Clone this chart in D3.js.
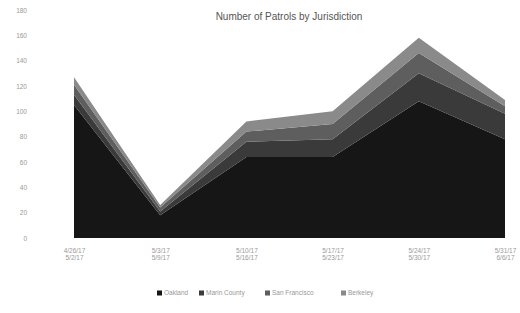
<!DOCTYPE html>
<meta charset="utf-8">
<script src="https://d3js.org/d3.v7.min.js"></script>
<html>
<head>
  <title>Number of Patrols by Jurisdiction</title>
  <style>
    body { margin: 0; background: #fff; }
    text { font-family: "Liberation Sans", Arial, sans-serif; }
  </style>
</head>
<body>
  <div id="my_dataviz"></div>
</body>
</html>

<script>
// week ranges (two line labels)
var weekStart = ["4/26/17", "5/3/17", "5/10/17", "5/17/17", "5/24/17", "5/31/17"];
var weekEnd   = ["5/2/17", "5/9/17", "5/16/17", "5/23/17", "5/30/17", "6/6/17"];

// series, bottom of the stack first
var seriesNames = ["Oakland", "Marin County", "San Francisco", "Berkeley"];
var oakland      = [105, 18, 64, 64, 108, 78];
var marinCounty  = [8, 3, 12, 14, 22, 20];
var sanFrancisco = [8, 3, 8, 12, 16, 6];
var berkeley     = [6, 2, 8, 10, 12, 5];

var yTicks = [0, 20, 40, 60, 80, 100, 120, 140, 160, 180];

var colors = ["#161616", "#3a3a3a", "#5e5e5e", "#8a8a8a"];

// table for d3.stack
var rows = weekStart.map(function(w, i) {
  return { week: w, s0: oakland[i], s1: marinCounty[i], s2: sanFrancisco[i], s3: berkeley[i] };
});

var W = 520, H = 313;
var svg = d3.select("#my_dataviz")
  .append("svg")
    .attr("width", W)
    .attr("height", H);

var x = d3.scalePoint()
  .domain(weekStart)
  .range([74, 505]);

var y = d3.scaleLinear()
  .domain([0, 180])
  .range([238, 10]);

// title
svg.append("text")
  .attr("x", 289)
  .attr("y", 20)
  .attr("text-anchor", "middle")
  .style("font-size", "10px")
  .style("fill", "#555")
  .text("Number of Patrols by Jurisdiction");

// y axis labels (no lines)
svg.append("g")
  .attr("transform", "translate(27,0)")
  .style("font-size", "6.5px")
  .call(d3.axisLeft(y).tickValues(yTicks).tickSize(0).tickPadding(0))
  .call(function(g) { g.select(".domain").remove(); })
  .selectAll("text")
    .style("fill", "#999");

// stacked areas
var stack = d3.stack().keys(["s0", "s1", "s2", "s3"]);
var layers = stack(rows);

var area = d3.area()
  .x(function(d) { return x(d.data.week); })
  .y0(function(d) { return y(d[0]); })
  .y1(function(d) { return y(d[1]); });

svg.selectAll(".layer")
  .data(layers)
  .enter()
  .append("path")
    .attr("class", "layer")
    .attr("d", area)
    .style("fill", function(d, i) { return colors[i]; });

// x labels, two lines each
var xl = svg.append("g")
  .attr("transform", "translate(0,238)")
  .style("font-size", "6.5px")
  .call(d3.axisBottom(x).tickSize(0).tickPadding(10));
xl.select(".domain").remove();
xl.selectAll("text").style("fill", "#999");
xl.selectAll(".tick")
  .append("text")
    .attr("y", 22)
    .attr("fill", "#999")
    .attr("text-anchor", "middle")
    .text(function(d, i) { return weekEnd[i]; });

// legend
var legend = svg.append("g")
  .attr("transform", "translate(157,295)");
var legX = [0, 42, 108, 184];
seriesNames.forEach(function(name, i) {
  var g = legend.append("g").attr("transform", "translate(" + legX[i] + ",0)");
  g.append("rect")
    .attr("x", 0).attr("y", -4.5)
    .attr("width", 5).attr("height", 5)
    .style("fill", colors[i]);
  g.append("text")
    .attr("x", 7).attr("y", 0)
    .style("font-size", "6.5px")
    .style("fill", "#999")
    .text(name);
});
</script>
